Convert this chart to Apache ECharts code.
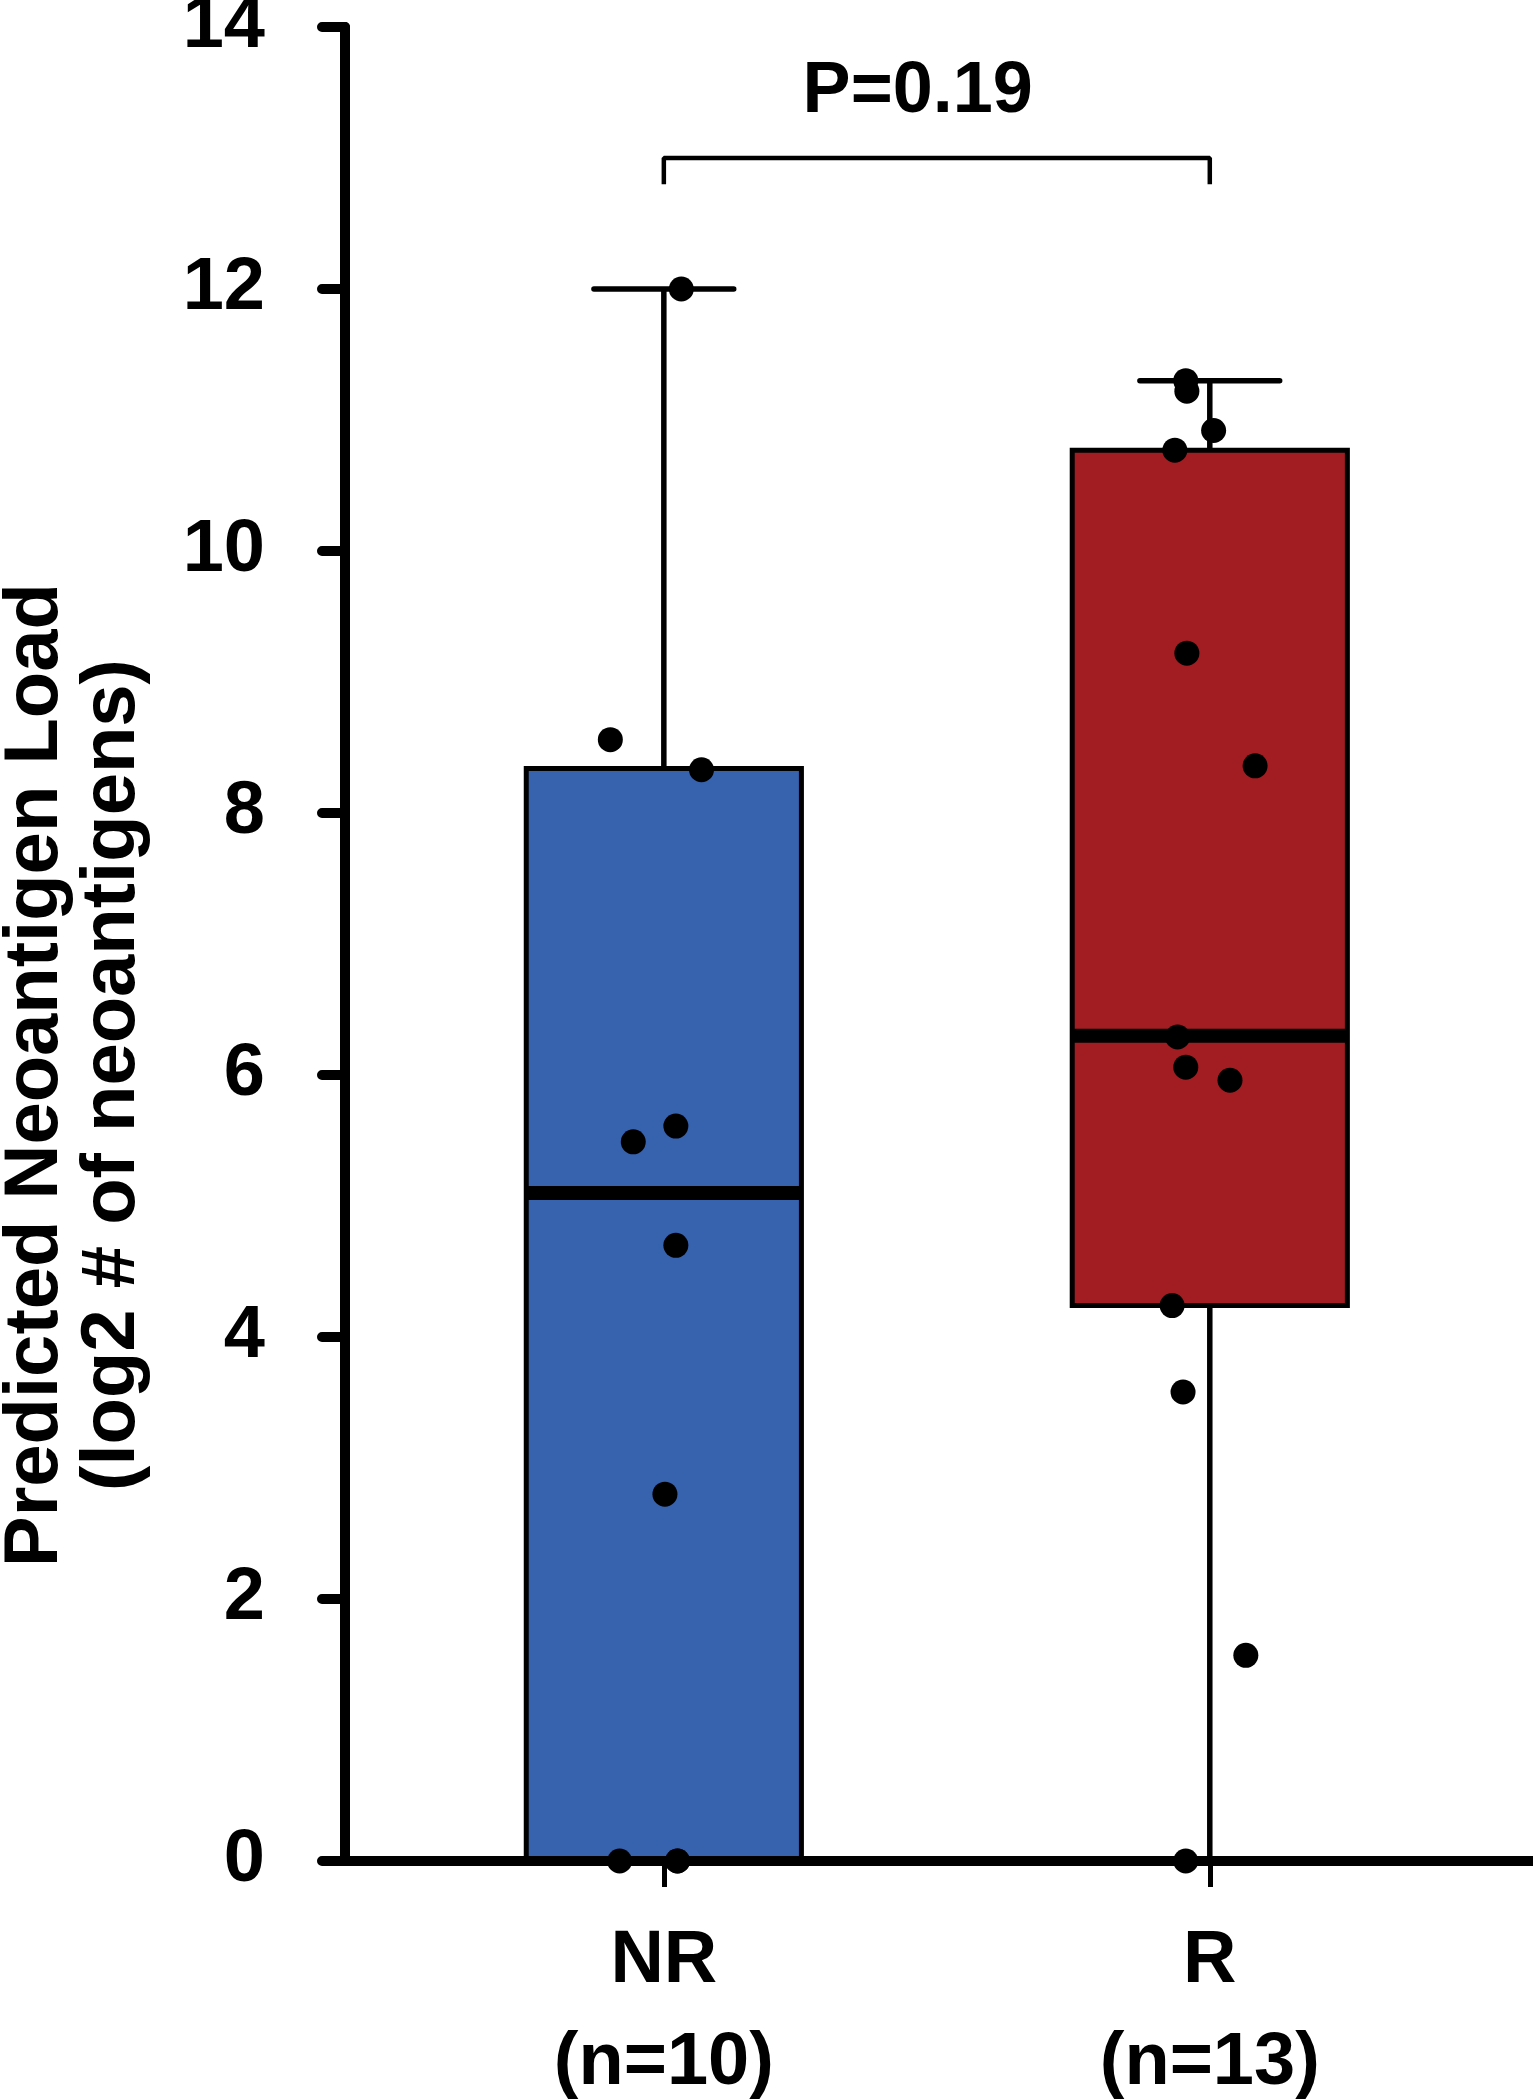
<!DOCTYPE html>
<html><head><meta charset="utf-8">
<script src="https://cdn.jsdelivr.net/npm/echarts@6/dist/echarts.min.js"></script>
<style>html,body{margin:0;padding:0;background:#fff}#main{width:1533px;height:2100px}</style>
</head><body><div id="main"></div>
<script>
// ---- data ----
const categories = ['NR', 'R'];
const categoryLabels = ['NR\n(n=10)', 'R\n(n=13)'];
const categoryPositions = [1, 2];
const whiskerLow = [0, 0];
const boxQ1 = [0, 4.24];
const boxMedian = [5.10, 6.30];
const boxQ3 = [8.34, 10.77];
const whiskerHigh = [12.0, 11.3];
const nrPointX = [1.032, 0.902, 1.069, 0.944, 1.022, 1.022, 1.002, 0.919, 1.025, 1.025];
const nrPointY = [12.0, 8.56, 8.33, 5.49, 5.61, 4.70, 2.80, 0, 0, 0];
const rPointX = [1.956, 1.958, 2.007, 1.936, 1.958, 2.083, 1.941, 1.956, 2.037, 1.931, 1.951, 2.066, 1.956];
const rPointY = [11.30, 11.22, 10.92, 10.77, 9.22, 8.36, 6.29, 6.06, 5.96, 4.24, 3.58, 1.57, 0];
const bracketX = [1, 1, 2, 2];
const bracketY = [12.8, 13.0, 13.0, 12.8];
const pValueText = 'P=0.19';
const pValuePos = [1.465, 13.5];
const yAxisTitle = 'Predicted Neoantigen Load\n(log2 # of neoantigens)';

// ---- style ----
const FONT = '"Liberation Sans", Arial, sans-serif';
const boxColors = ['#3762AE', '#A11D22'];

const boxData = categoryPositions.map((p, i) => [p, whiskerLow[i], boxQ1[i], boxMedian[i], boxQ3[i], whiskerHigh[i], i]);

function renderBox(params, api) {
  const x = api.value(0);
  const lo = api.value(1), q1 = api.value(2), med = api.value(3), q3 = api.value(4), hi = api.value(5);
  const idx = api.value(6);
  const halfBox = api.size([0.252, 0])[0];
  const halfCap = api.size([0.128, 0])[0];
  const pLo = api.coord([x, lo]), pQ1 = api.coord([x, q1]), pMed = api.coord([x, med]);
  const pQ3 = api.coord([x, q3]), pHi = api.coord([x, hi]);
  const cx = pQ1[0];
  const lineStyle = { stroke: '#000', lineWidth: 5.5 };
  const children = [];
  if (lo < q1) {
    children.push({ type: 'line', shape: { x1: cx, y1: pQ1[1], x2: cx, y2: pLo[1] }, style: lineStyle });
    children.push({ type: 'line', shape: { x1: cx - halfCap, y1: pLo[1], x2: cx + halfCap, y2: pLo[1] }, style: lineStyle });
  }
  if (hi > q3) {
    children.push({ type: 'line', shape: { x1: cx, y1: pQ3[1], x2: cx, y2: pHi[1] }, style: lineStyle });
    children.push({ type: 'line', shape: { x1: cx - halfCap, y1: pHi[1], x2: cx + halfCap, y2: pHi[1] }, style: Object.assign({}, lineStyle, { lineCap: 'round' }) });
  }
  children.push({ type: 'rect', shape: { x: cx - halfBox, y: pQ3[1], width: 2 * halfBox, height: pQ1[1] - pQ3[1] },
    style: { fill: boxColors[idx], stroke: '#000', lineWidth: 5 } });
  children.push({ type: 'line', shape: { x1: cx - halfBox, y1: pMed[1], x2: cx + halfBox, y2: pMed[1] },
    style: { stroke: '#000', lineWidth: 14 } });
  return { type: 'group', children };
}

const chart = echarts.init(document.getElementById('main'), null, { renderer: 'canvas' });
chart.setOption({
  animation: false,
  backgroundColor: '#fff',
  grid: { left: 345, right: 0, top: 27, bottom: 239, containLabel: false, outerBoundsMode: 'none' },
  xAxis: {
    type: 'value', min: 0.416, max: 2.592, z: 3,
    splitLine: { show: false },
    axisLine: { show: true, onZero: false, lineStyle: { color: '#000', width: 10, cap: 'round' } },
    axisTick: { show: true, customValues: categoryPositions, length: 26, lineStyle: { color: '#000', width: 5 } },
    axisLabel: {
      show: true, customValues: categoryPositions,
      formatter: v => categoryLabels[categoryPositions.indexOf(v)] || '',
      fontSize: 74, fontWeight: 'bold', fontFamily: FONT, color: '#000', lineHeight: 102, margin: 50
    }
  },
  yAxis: {
    type: 'value', min: 0, max: 14, interval: 2,
    splitLine: { show: false },
    axisLine: { show: true, onZero: false, lineStyle: { color: '#000', width: 10, cap: 'round' } },
    axisTick: { show: true, length: 23, lineStyle: { color: '#000', width: 10, cap: 'round' } },
    axisLabel: { fontSize: 74, fontWeight: 'bold', fontFamily: FONT, color: '#000', margin: 80 },
    name: yAxisTitle, nameLocation: 'middle', nameGap: 193, nameMoveOverlap: false,
    nameTextStyle: { fontSize: 76, fontWeight: 'bold', fontFamily: FONT, color: '#000', lineHeight: 77, padding: [0, 262, 0, 0] }
  },
  series: [
    { type: 'custom', name: 'box', renderItem: renderBox, data: boxData, z: 2, silent: true },
    { type: 'line', name: 'bracket', data: bracketX.map((x, i) => [x, bracketY[i]]), symbol: 'none',
      lineStyle: { color: '#000', width: 4.5 }, z: 5, silent: true },
    { type: 'scatter', name: 'pvalue', data: [pValuePos], symbolSize: 1, itemStyle: { color: 'rgba(0,0,0,0)', opacity: 1 },
      label: { show: true, position: 'inside', formatter: pValueText, fontSize: 72, fontWeight: 'bold', fontFamily: FONT, color: '#000', opacity: 1 },
      z: 5, silent: true },
    { type: 'scatter', name: categories[0], data: nrPointX.map((x, i) => [x, nrPointY[i]]), symbolSize: 25,
      itemStyle: { color: '#000', opacity: 1 }, z: 10, silent: true },
    { type: 'scatter', name: categories[1], data: rPointX.map((x, i) => [x, rPointY[i]]), symbolSize: 25,
      itemStyle: { color: '#000', opacity: 1 }, z: 10, silent: true }
  ]
});
</script></body></html>
